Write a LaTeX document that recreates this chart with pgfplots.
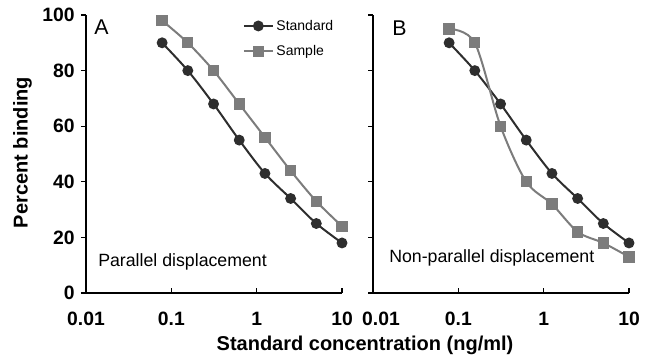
\documentclass[border=0pt]{standalone}
\usepackage{pgfplots}
\pgfplotsset{compat=1.18}
\usepackage{fontspec}
\setmainfont{Liberation Sans}
\definecolor{stdcol}{HTML}{2E2E2E}
\definecolor{smpcol}{HTML}{7C7C7C}
\newcommand{\legfont}{\fontsize{10.5}{12}\selectfont}
\pgfplotsset{
  myax/.style={
    scale only axis, width=192pt, height=208.5pt,
    xmin=0.01, xmax=10, ymin=0, ymax=100,
    axis lines=left, axis line style={-, line width=1.1pt, black},
    xtick={0.01,0.1,1,10},
    minor x tick num=0, xminorticks=false,
    ytick={0,20,40,60,80,100},
    tick align=inside, major tick length=3.75pt,
    tick style={line width=1pt, black},
    ytick style={xshift=-3.75pt},
    x tick label style={font=\fontsize{14.5}{16}\selectfont\bfseries, yshift=-11pt},
    y tick label style={font=\fontsize{14.5}{16}\selectfont\bfseries, xshift=-5pt},
    clip=false,
  },
  longleg/.style={legend image code/.code={\draw[##1, mark repeat=2, mark phase=2] plot coordinates {(0cm,0cm) (0.38cm,0cm) (0.76cm,0cm)};}},
  stdstyle/.style={color=stdcol, line width=1.5pt, smooth, mark=*, mark size=3.3pt, mark options={solid, fill=stdcol}, longleg},
  smpstyle/.style={color=smpcol, line width=1.5pt, smooth, mark=square*, mark size=3.5pt, mark options={solid, fill=smpcol}, longleg},
}
\begin{document}
\begin{tikzpicture}
\useasboundingbox (0,0) rectangle (489pt,268.5pt);
\begin{semilogxaxis}[myax, at={(64.5pt,48.75pt)}, anchor=south west,
  xticklabels={0.01,0.1,1,10},
  yticklabels={0,20,40,60,80,100},
  legend style={at={(0.612,0.993)}, anchor=north west, draw=none, fill=none,
    font=\legfont, row sep=6pt, inner sep=0pt},
  legend cell align=left,
]
\addplot[stdstyle] coordinates {
(0.078,90) (0.156,80) (0.3125,68) (0.625,55) (1.25,43) (2.5,34) (5,25) (10,18)};
\addlegendentry{\legfont Standard}
\addplot[smpstyle] coordinates {
(0.078,98) (0.156,90) (0.3125,80) (0.625,68) (1.25,56) (2.5,44) (5,33) (10,24)};
\addlegendentry{\legfont Sample}
\end{semilogxaxis}
\begin{semilogxaxis}[myax, at={(279.75pt,48.75pt)}, anchor=south west,
  xticklabels={\kern12pt 0.01,0.1,1,10},
  yticklabels={}]
\addplot[stdstyle] coordinates {
(0.078,90) (0.156,80) (0.3125,68) (0.625,55) (1.25,43) (2.5,34) (5,25) (10,18)};
\addplot[smpstyle] coordinates {
(0.078,95) (0.156,90) (0.3125,60) (0.625,40) (1.25,32) (2.5,22) (5,18) (10,13)};
\end{semilogxaxis}
\node[rotate=90, font=\fontsize{15}{17}\selectfont\bfseries] at (16.9pt,154.1pt) {Percent binding};
\node[font=\fontsize{15}{17}\selectfont\bfseries] at (273.75pt,9.5pt) {Standard concentration (ng/ml)};
\node[anchor=west, inner sep=0pt, font=\fontsize{16}{18}\selectfont] at (70.5pt,248.25pt) {A};
\node[anchor=west, inner sep=0pt, font=\fontsize{16}{18}\selectfont] at (294pt,247.5pt) {B};
\node[anchor=west, inner sep=0pt, font=\fontsize{13.3}{15}\selectfont] at (73.5pt,72pt) {Parallel displacement};
\node[anchor=west, inner sep=0pt, font=\fontsize{13.3}{15}\selectfont] at (291.75pt,75pt) {Non-parallel displacement};
\end{tikzpicture}
\end{document}
